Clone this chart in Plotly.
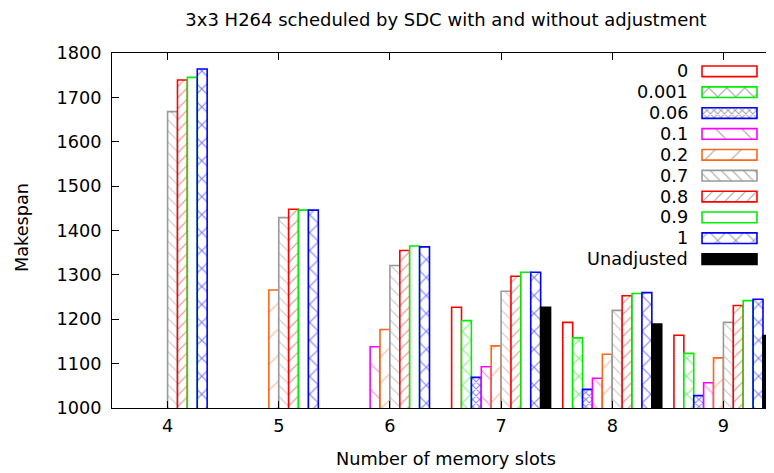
import plotly.graph_objects as go

# ---------------- data ----------------
categories = ["4", "5", "6", "7", "8", "9"]
series_names = ["0", "0.001", "0.06", "0.1", "0.2", "0.7", "0.8", "0.9", "1", "Unadjusted"]

s_0 = [None, None, None, 1227, 1193, 1164]
s_0001 = [None, None, None, 1197, 1158, 1123]
s_006 = [None, None, None, 1069, 1042, 1028]
s_01 = [None, None, 1138, 1093, 1067, 1057]
s_02 = [None, 1266, 1177, 1140, 1121, 1113]
s_07 = [1668, 1429, 1321, 1263, 1220, 1193]
s_08 = [1739, 1448, 1355, 1297, 1253, 1231]
s_09 = [1745, 1446, 1365, 1306, 1258, 1242]
s_1 = [1764, 1446, 1363, 1306, 1260, 1245]
s_unadj = [None, None, None, 1227, 1189, 1163]

series_values = [s_0, s_0001, s_006, s_01, s_02, s_07, s_08, s_09, s_1, s_unadj]

y_ticks = [1000, 1100, 1200, 1300, 1400, 1500, 1600, 1700, 1800]

# ---------------- styles ----------------
colors = ["#ff0000", "#00ee00", "#0000ff", "#ff00ff", "#ff6418",
          "#999999", "#ff0000", "#00ee00", "#0000ff", "#000000"]
pattern_colors = ["#ff0000", "#00dd00", "#0000ff", "#ff00ff", "#ff6418",
                  "#888888", "#ff0000", "#00ee00", "#0000ff", "#000000"]
shapes = ["", "x", "x", "\\", "/", "\\", "/", "", "x", ""]
psizes = [8, 12.7, 5, 18.4, 18.4, 7.8, 7.8, 8, 12.7, 8]
solids = [0.1, 0.17, 0.36, 0.06, 0.06, 0.14, 0.14, 0.1, 0.17, 0.1]
fills = ["white"] * 9 + ["black"]

FONT = "DejaVu Sans"
FS = 17.7

fig = go.Figure()

for name, vals, c, pc, sh, ps, so, fl in zip(series_names, series_values, colors,
                                              pattern_colors, shapes, psizes, solids, fills):
    fig.add_trace(go.Bar(
        x=categories, y=vals, name=name, showlegend=False,
        marker=dict(color=fl, line=dict(color=c, width=1.6),
                    pattern=dict(shape=sh, fgcolor=pc, bgcolor=fl,
                                 size=ps, solidity=so)),
    ))

# invisible trace to carry the right-hand mirrored y ticks
fig.add_trace(go.Scatter(x=[None], y=[None], yaxis="y2", showlegend=False,
                         hoverinfo="skip"))

# custom legend samples (gnuplot style: text left, sample right)
idx = list(range(len(series_names)))
fig.add_trace(go.Bar(
    x=[1] * len(series_names), y=idx, orientation="h",
    xaxis="x3", yaxis="y3", width=0.51, showlegend=False, hoverinfo="skip",
    marker=dict(color=fills, line=dict(color=colors, width=1.6),
                pattern=dict(shape=shapes, fgcolor=pattern_colors, bgcolor=fills,
                             size=psizes, solidity=solids)),
))

annotations = []
for i, name in enumerate(series_names):
    annotations.append(dict(text=name, xref="paper", yref="y3",
                            x=0.8666, y=i, xanchor="right", yanchor="middle",
                            showarrow=False, font=dict(family=FONT, size=FS, color="black")))

annotations.append(dict(text="Makespan", xref="paper", yref="paper",
                        x=-0.1349, y=0.507, textangle=-90, showarrow=False,
                        xanchor="center", yanchor="middle",
                        font=dict(family=FONT, size=FS, color="black")))
annotations.append(dict(text="Number of memory slots", xref="paper", yref="paper",
                        x=0.5007, y=-0.1437, showarrow=False,
                        xanchor="center", yanchor="middle",
                        font=dict(family=FONT, size=FS, color="black")))

fig.update_layout(
    width=774, height=473,
    margin=dict(l=104, r=3, t=45, b=73),
    paper_bgcolor="white", plot_bgcolor="white",
    barmode="group", bargap=0.11, bargroupgap=0,
    font=dict(family=FONT, size=FS, color="black"),
    title=dict(text="3x3 H264 scheduled by SDC with and without adjustment",
               xref="container", x=438 / 774, xanchor="center",
               yref="container", y=1 - 12 / 473, yanchor="middle",
               font=dict(family=FONT, size=18, color="black")),
    xaxis=dict(type="category", categoryorder="array", categoryarray=categories,
               range=[-0.5, 5.5], showline=True, linecolor="black", linewidth=1,
               mirror="ticks", ticks="inside", ticklen=7, tickcolor="black",
               showgrid=False, zeroline=False, ticklabelstandoff=2,
               tickfont=dict(family=FONT, size=FS, color="black")),
    yaxis=dict(range=[1000, 1800], tickvals=y_ticks, showline=True,
               linecolor="black", linewidth=1, mirror=False, ticks="inside",
               ticklen=7, tickcolor="black", showgrid=False, zeroline=False,
               ticklabelstandoff=6,
               tickfont=dict(family=FONT, size=FS, color="black")),
    yaxis2=dict(overlaying="y", side="right", range=[1000, 1800], tickvals=y_ticks,
                ticks="inside", ticklen=7, tickcolor="black", showticklabels=False,
                showline=False, showgrid=False, zeroline=False),
    xaxis3=dict(domain=[0.8813, 0.9703], range=[-0.04, 1.04], anchor="y3",
                visible=False, fixedrange=True),
    yaxis3=dict(domain=[0.3901, 0.9777], range=[9.5, -0.5], anchor="x3",
                visible=False, fixedrange=True),
    annotations=annotations,
)

fig.write_html("out.html")
